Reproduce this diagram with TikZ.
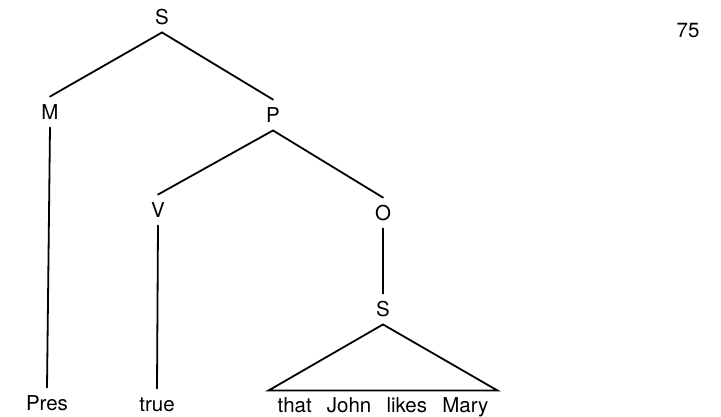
\documentclass[tikz,border=0pt]{standalone}
\usepackage{fontspec}
\setmainfont{TeX Gyre Heros}
\usetikzlibrary{positioning}
\tikzset{
cat/.style={ inner xsep=2pt, inner ysep=8pt, text height=14.5pt, text depth=0pt, font=\fontsize{20.5}{24}\selectfont},
leaf/.style={ cat, inner xsep=9pt, inner ysep=7pt},
branch/.style={draw, line width=1.8pt, line cap=round},
pagenum/.style={ font=\fontsize{20.5}{24}\selectfont},
}

\begin{document}
\begin{tikzpicture}
[x=1pt, y=-1pt]
\useasboundingbox (0,0) rectangle (721,417);

\node[cat] (s) at (162,17) {S};
\node[cat] (m) at (50,112) {M};
\node[cat] (p) at (273,115) {P};
\node[cat] (v) at (158,210) {V};
\node[cat] (o) at (383,213) {O};
\node[cat] (s2) at (383,309) {S};

\node[cat] (pres) at (47,403) {Pres};
\node[cat] (true) at (157,404) {true};
\node[leaf] (that) at (383,405) {\spaceskip=.74em that John likes Mary};

\node[pagenum] (num) at (688,31) {75};

\draw[branch] (s.south) -- (m.north);
\draw[branch] (s.south) -- (p.north);
\draw[branch] (m.south) -- (pres.north);
\draw[branch] (p.south) -- (v.north);
\draw[branch] (p.south) -- (o.north);
\draw[branch] (v.south) -- (true.north);
\draw[branch] (o.south) -- (s2.north);
\draw[branch, line join=miter] (s2.south) -- (that.north east) -- (that.north west) -- cycle;

\end{tikzpicture}
\end{document}
